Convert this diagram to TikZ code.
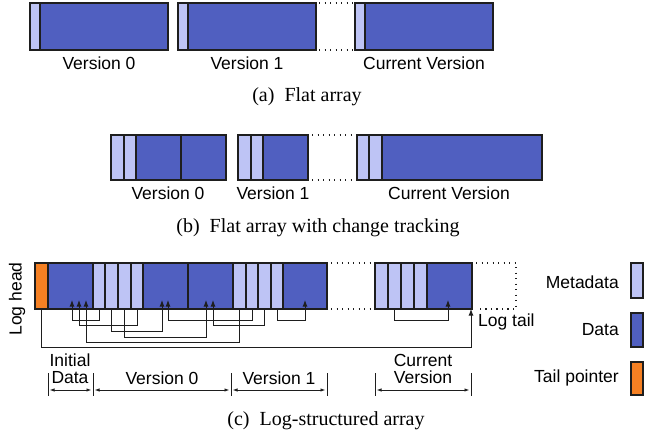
\documentclass[tikz,border=0pt]{standalone}
\usepackage{fontspec}
\setmainfont{Liberation Serif}
\newfontfamily\labfont{Liberation Sans}
\usetikzlibrary{arrows.meta}
\definecolor{metac}{RGB}{190,196,245}
\definecolor{datac}{RGB}{80,95,192}
\definecolor{tailc}{RGB}{245,128,35}
\definecolor{linec}{RGB}{30,30,30}
\tikzset{
  cellbase/.style={draw=linec, line width=1.3pt, inner sep=0pt, outer sep=0pt},
  metacell/.style={cellbase, fill=metac},
  datacell/.style={cellbase, fill=datac},
  tailcell/.style={cellbase, fill=tailc},
  lab/.style={font=\labfont\fontsize{17.5}{20}\selectfont, inner sep=0pt},
  captext/.style={font=\fontsize{20}{24}\selectfont, inner sep=0pt},
  dotline/.style={draw=linec, line width=1.2pt, dash pattern=on 1.3pt off 4.2pt},
  ptr/.style={draw=linec, line width=1pt, -{Latex[length=6.5pt,width=5pt]}},
  tickline/.style={draw=linec, line width=0.9pt},
  spanarrow/.style={draw=linec, line width=0.9pt, {Latex[length=5pt,width=3.5pt]}-{Latex[length=5pt,width=3.5pt]}, shorten <=1.5pt, shorten >=1.5pt}
}
\newcommand{\cellbox}[6]{\node[#2, minimum width={#4-#3}, minimum height={#6-#5}] (#1) at ({(#3+#4)/2},{(#5+#6)/2}) {};}
\begin{document}
\begin{tikzpicture}[x=1pt,y=-1pt]
\useasboundingbox (0,0) rectangle (651,433);
% ---------- (a) ----------
\cellbox{a0d}{datacell}{40}{168}{3}{50}
\cellbox{a0m}{metacell}{30}{40}{3}{50}
\cellbox{a1d}{datacell}{188}{316}{3}{50}
\cellbox{a1m}{metacell}{178}{188}{3}{50}
\cellbox{a2d}{datacell}{365}{493}{3}{50}
\cellbox{a2m}{metacell}{355}{365}{3}{50}
\draw[dotline] ([xshift=3pt]a1d.north east) -- (a2m.north west);
\draw[dotline] ([xshift=3pt]a1d.south east) -- (a2m.south west);
\node[lab] (la0) at (99,63) {Version 0};
\node[lab] (la1) at (247,63) {Version 1};
\node[lab] (la2) at (424,63) {Current Version};
\node[captext] (capa) at (307,97) {(a)\ \ Flat array};
% ---------- (b) ----------
\cellbox{b0m1}{metacell}{111}{124}{135}{180}
\cellbox{b0m2}{metacell}{124}{136}{135}{180}
\cellbox{b0d1}{datacell}{136}{181}{135}{180}
\cellbox{b0d2}{datacell}{181}{226}{135}{180}
\cellbox{b1m1}{metacell}{238}{251}{135}{180}
\cellbox{b1m2}{metacell}{251}{263}{135}{180}
\cellbox{b1d1}{datacell}{263}{308}{135}{180}
\cellbox{b2m1}{metacell}{357}{369}{135}{180}
\cellbox{b2m2}{metacell}{369}{382}{135}{180}
\cellbox{b2d1}{datacell}{382}{542}{135}{180}
\draw[dotline] ([xshift=4pt]b1d1.north east) -- (b2m1.north west);
\draw[dotline] ([xshift=4pt]b1d1.south east) -- (b2m1.south west);
\node[lab] (lb0) at (168,193) {Version 0};
\node[lab] (lb1) at (273,193) {Version 1};
\node[lab] (lb2) at (449,193) {Current Version};
\node[captext] (capb) at (318,228) {(b)\ \ Flat array with change tracking};
% ---------- (c) ----------
\cellbox{ctail}{tailcell}{35}{48}{263}{309}
\cellbox{cd0}{datacell}{48}{93}{263}{309}
\cellbox{cm1}{metacell}{93}{105}{263}{309}
\cellbox{cm2}{metacell}{105}{118}{263}{309}
\cellbox{cm3}{metacell}{118}{131}{263}{309}
\cellbox{cm4}{metacell}{131}{143}{263}{309}
\cellbox{cd1}{datacell}{143}{188}{263}{309}
\cellbox{cd2}{datacell}{188}{233}{263}{309}
\cellbox{cm5}{metacell}{233}{246}{263}{309}
\cellbox{cm6}{metacell}{246}{258}{263}{309}
\cellbox{cm7}{metacell}{258}{271}{263}{309}
\cellbox{cm8}{metacell}{271}{283}{263}{309}
\cellbox{cd3}{datacell}{283}{327}{263}{309}
\cellbox{em1}{metacell}{375}{388}{263}{309}
\cellbox{em2}{metacell}{388}{401}{263}{309}
\cellbox{em3}{metacell}{401}{414}{263}{309}
\cellbox{em4}{metacell}{414}{427}{263}{309}
\cellbox{ed}{datacell}{427}{472}{263}{309}
\draw[dotline] ([xshift=4pt]cd3.north east) -- (em1.north west);
\draw[dotline] ([xshift=4pt]cd3.south east) -- (em1.south west);
\coordinate (free) at (516,263);
\draw[dotline] ([xshift=4pt]ed.north east) -- (free) -- (free |- ed.south) -- ([xshift=4pt]ed.south east);
% pointer targets
\coordinate (t1) at (72,300);
\coordinate (t2) at (79,300);
\coordinate (t3) at (86,300);
\coordinate (t4) at (162,300);
\coordinate (t5) at (168,300);
\coordinate (t6) at (206,300);
\coordinate (t7) at (213,300);
\coordinate (t8) at (305,300);
\coordinate (t9) at (448,300);
\coordinate (t10) at (471,309);
\draw[ptr] (cm1.south) -- (cm1.south |- 0,320) -| (t1);
\draw[ptr] (cm4.south) -- (cm4.south |- 0,325) -| (t2);
\draw[ptr] (cm5.south) -- (cm5.south |- 0,342) -| (t3);
\draw[ptr] (cm2.south) -- (cm2.south |- 0,331.5) -| (t4);
\draw[ptr] (cm6.south) -- (cm6.south |- 0,320) -| (t5);
\draw[ptr] (cm3.south) -- (cm3.south |- 0,337) -| (t6);
\draw[ptr] (cm7.south) -- (cm7.south |- 0,325) -| (t7);
\draw[ptr] (cm8.south) -- (cm8.south |- 0,320) -| (t8);
\draw[ptr] (em2.south) -- (em2.south |- 0,320) -| (t9);
\draw[ptr] (ctail.south) -- (ctail.south |- 0,347) -| (t10);
\node[lab, rotate=90] (loghead) at (17,299) {Log head};
\node[lab, anchor=west] (logtail) at (478,322) {Log tail};
% spans
\coordinate (s0) at (48,373);
\coordinate (s1) at (93,373);
\coordinate (s2) at (231,373);
\coordinate (s3) at (327,373);
\coordinate (s4) at (375,373);
\coordinate (s5) at (471,373);
\foreach \s in {s0,s1,s2,s3,s4,s5} \draw[tickline] (\s) -- ++(0,23);
\draw[spanarrow] (s0 |- 0,390) -- (s1 |- 0,390);
\draw[spanarrow] (s1 |- 0,390) -- (s2 |- 0,390);
\draw[spanarrow] (s2 |- 0,390) -- (s3 |- 0,390);
\draw[spanarrow] (s4 |- 0,390) -- (s5 |- 0,390);
\node[lab] (lini) at (70,360) {Initial};
\node[lab] (ldat) at (70,378) {Data};
\node[lab] (lcv0) at (162,378) {Version 0};
\node[lab] (lcv1) at (279,378) {Version 1};
\node[lab] (lcur) at (423,360) {Current};
\node[lab] (lver) at (423,377) {Version};
% legend
\cellbox{legm}{metacell}{631}{643}{263}{298}
\cellbox{legd}{datacell}{631}{643}{313}{347}
\cellbox{legt}{tailcell}{631}{643}{362}{395}
\node[lab, anchor=east] (legml) at (619,282) {Metadata};
\node[lab, anchor=east] (legdl) at (619,330) {Data};
\node[lab, anchor=east] (legtl) at (619,378) {Tail pointer};
\node[captext] (capc) at (326,421) {(c)\ \ Log-structured array};
\end{tikzpicture}
\end{document}
